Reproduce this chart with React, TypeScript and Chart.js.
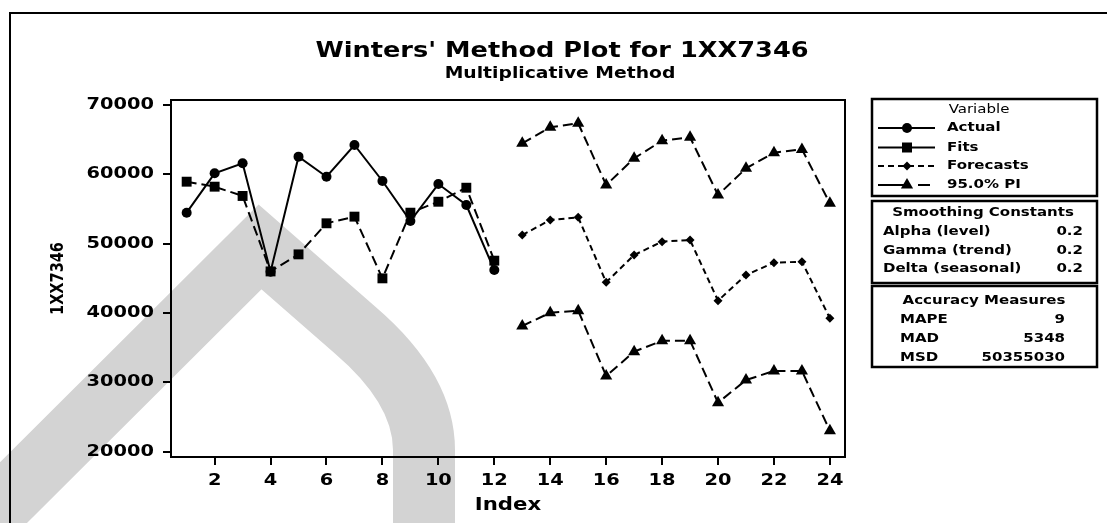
import React, { useEffect, useRef } from 'react';
import { Chart, registerables } from 'chart.js';

Chart.register(...registerables);

// ---- data ----
const fitIndex = [1, 2, 3, 4, 5, 6, 7, 8, 9, 10, 11, 12];
const actual = [54470, 60150, 61590, 45960, 62550, 59660, 64230, 59040, 53270, 58600, 55580, 46200];
const fits = [58940, 58220, 56880, 46000, 48460, 52940, 53900, 45000, 54470, 56050, 58070, 47550];
const forecastIndex = [13, 14, 15, 16, 17, 18, 19, 20, 21, 22, 23, 24];
const forecasts = [51250, 53415, 53800, 44430, 48370, 50290, 50530, 41780, 45480, 47260, 47400, 39230];
const upperPI = [64470, 66780, 67360, 58460, 62310, 64850, 65335, 57020, 60865, 63130, 63600, 55820];
const lowerPI = [38130, 40050, 40340, 30920, 34425, 36010, 36010, 27070, 30340, 31640, 31640, 23030];
const xTicks = [2, 4, 6, 8, 10, 12, 14, 16, 18, 20, 22, 24];
const yTicks = [20000, 30000, 40000, 50000, 60000, 70000];

const titleText = "Winters' Method Plot for 1XX7346";
const subtitleText = 'Multiplicative Method';
const xTitle = 'Index';
const yTitle = '1XX7346';
const legendItems = ['Actual', 'Fits', 'Forecasts', '95.0% PI'];
const smoothingRows: [string, string][] = [
  ['Alpha (level)', '0.2'],
  ['Gamma (trend)', '0.2'],
  ['Delta (seasonal)', '0.2'],
];
const accuracyRows: [string, string][] = [
  ['MAPE', '9'],
  ['MAD', '5348'],
  ['MSD', '50355030'],
];

const W = 1107;
const H = 523;
const FONT = '"DejaVu Sans", Verdana, sans-serif';
const INK = '#000';
const STRETCH = 1.25;

function txt(
  ctx: CanvasRenderingContext2D,
  s: string,
  x: number,
  y: number,
  size: number,
  bold: boolean,
  align: CanvasTextAlign,
  baseline: CanvasTextBaseline = 'middle',
  stretch = STRETCH
) {
  ctx.save();
  ctx.translate(x, y);
  ctx.scale(stretch, 1);
  ctx.font = `${bold ? 'bold ' : ''}${size}px ${FONT}`;
  ctx.fillStyle = INK;
  ctx.textAlign = align;
  ctx.textBaseline = baseline;
  ctx.fillText(s, 0, 0);
  ctx.restore();
}

function marker(ctx: CanvasRenderingContext2D, kind: string, x: number, y: number) {
  ctx.save();
  ctx.fillStyle = INK;
  ctx.beginPath();
  if (kind === 'circle') {
    ctx.arc(x, y, 5, 0, Math.PI * 2);
  } else if (kind === 'rect') {
    ctx.rect(x - 5, y - 5, 10, 10);
  } else if (kind === 'rectRot') {
    ctx.moveTo(x, y - 4.5);
    ctx.lineTo(x + 4.5, y);
    ctx.lineTo(x, y + 4.5);
    ctx.lineTo(x - 4.5, y);
    ctx.closePath();
  } else {
    ctx.moveTo(x, y - 7);
    ctx.lineTo(x + 6.1, y + 3.5);
    ctx.lineTo(x - 6.1, y + 3.5);
    ctx.closePath();
  }
  ctx.fill();
  ctx.restore();
}

const decorPlugin = {
  id: 'decor',
  beforeDraw(chart: any) {
    const ctx: CanvasRenderingContext2D = chart.ctx;
    ctx.save();
    ctx.fillStyle = '#fff';
    ctx.fillRect(0, 0, W, H);
    // scanned watermark band
    ctx.strokeStyle = '#d3d3d3';
    ctx.lineWidth = 62;
    ctx.lineJoin = 'miter';
    ctx.miterLimit = 10;
    ctx.beginPath();
    ctx.moveTo(-40, 546);
    ctx.lineTo(260, 247);
    ctx.lineTo(355, 330);
    ctx.quadraticCurveTo(424, 389, 424, 450);
    ctx.lineTo(424, 560);
    ctx.stroke();
    // page frame
    ctx.strokeStyle = INK;
    ctx.lineWidth = 2;
    ctx.beginPath();
    ctx.moveTo(10, H + 2);
    ctx.lineTo(10, 13);
    ctx.lineTo(W + 2, 13);
    ctx.stroke();
    ctx.restore();
  },
  afterDraw(chart: any) {
    const ctx: CanvasRenderingContext2D = chart.ctx;
    const xs = chart.scales.x;
    const ys = chart.scales.y;
    const a = chart.chartArea;
    ctx.save();
    // plot frame
    ctx.strokeStyle = INK;
    ctx.lineWidth = 2;
    ctx.strokeRect(a.left, a.top, a.right - a.left, a.bottom - a.top);

    // titles
    txt(ctx, titleText, 562, 57, 20.5, true, 'center', 'alphabetic');
    txt(ctx, subtitleText, 560, 78, 15, true, 'center', 'alphabetic');

    // tick labels
    xTicks.forEach((v) => txt(ctx, String(v), xs.getPixelForValue(v), 485, 15.5, true, 'center', 'alphabetic'));
    yTicks.forEach((v) => txt(ctx, String(v), 154, ys.getPixelForValue(v), 15.5, true, 'right', 'middle'));

    // axis titles
    txt(ctx, xTitle, (a.left + a.right) / 2, 510, 17, true, 'center', 'alphabetic');
    ctx.save();
    ctx.translate(58, (a.top + a.bottom) / 2);
    ctx.rotate(-Math.PI / 2);
    ctx.scale(1, STRETCH);
    ctx.font = `bold 14.5px ${FONT}`;
    ctx.fillStyle = INK;
    ctx.textAlign = 'center';
    ctx.textBaseline = 'middle';
    ctx.fillText(yTitle, 0, 0);
    ctx.restore();

    // legend boxes
    const bx = 872;
    const bw = 225;
    ctx.lineWidth = 2.5;
    ctx.strokeStyle = INK;
    ctx.strokeRect(bx, 99, bw, 97);
    ctx.strokeRect(bx, 201, bw, 82);
    ctx.strokeRect(bx, 286, bw, 81);

    txt(ctx, 'Variable', 979, 110, 12, false, 'center');
    const rowsY = [128, 147.5, 166, 185];
    const kinds = ['circle', 'rect', 'rectRot', 'triangle'];
    rowsY.forEach((y, i) => {
      ctx.save();
      ctx.strokeStyle = INK;
      ctx.lineWidth = 2;
      if (i < 2) {
        ctx.beginPath();
        ctx.moveTo(878, y);
        ctx.lineTo(935, y);
        ctx.stroke();
      } else if (i === 2) {
        ctx.setLineDash([6, 4]);
        ctx.beginPath();
        ctx.moveTo(878, y);
        ctx.lineTo(936, y);
        ctx.stroke();
      } else {
        ctx.beginPath();
        ctx.moveTo(878, y);
        ctx.lineTo(910, y);
        ctx.moveTo(918, y);
        ctx.lineTo(930, y);
        ctx.stroke();
      }
      ctx.restore();
      marker(ctx, kinds[i], 907, y);
      txt(ctx, legendItems[i], 947, y, 12, true, 'left');
    });

    txt(ctx, 'Smoothing Constants', 983, 213, 12, true, 'center');
    smoothingRows.forEach(([k, v], i) => {
      const y = 232 + i * 18.5;
      txt(ctx, k, 883, y, 12, true, 'left');
      txt(ctx, v, 1083, y, 12, true, 'right');
    });
    txt(ctx, 'Accuracy Measures', 984, 301, 12, true, 'center');
    accuracyRows.forEach(([k, v], i) => {
      const y = 320 + i * 19;
      txt(ctx, k, 900, y, 12, true, 'left');
      txt(ctx, v, 1065, y, 12, true, 'right');
    });
    ctx.restore();
  },
};

export default function App() {
  const ref = useRef<HTMLCanvasElement>(null);
  useEffect(() => {
    if (!ref.current) return;
    const pts = (xs: number[], ys: number[]) => xs.map((x, i) => ({ x, y: ys[i] }));
    const base = {
      borderColor: INK,
      backgroundColor: INK,
      borderWidth: 2,
      pointBorderWidth: 0,
      fill: false,
      tension: 0,
    };
    const chart = new Chart(ref.current, {
      type: 'line',
      data: {
        datasets: [
          { ...base, label: 'Actual', data: pts(fitIndex, actual), pointStyle: 'circle', pointRadius: 5 },
          { ...base, label: 'Fits', data: pts(fitIndex, fits), pointStyle: 'rect', pointRadius: 7, borderDash: [10, 5] },
          { ...base, label: 'Forecasts', data: pts(forecastIndex, forecasts), pointStyle: 'rectRot', pointRadius: 4.5, borderDash: [6, 4] },
          { ...base, label: '95.0% PI', data: pts(forecastIndex, upperPI), pointStyle: 'triangle', pointRadius: 7, borderDash: [10, 5] },
          { ...base, label: '95.0% PI lower', data: pts(forecastIndex, lowerPI), pointStyle: 'triangle', pointRadius: 7, borderDash: [10, 5] },
        ],
      },
      options: {
        animation: false,
        responsive: false,
        maintainAspectRatio: false,
        devicePixelRatio: 1,
        layout: { padding: { left: 163, top: 100, right: 262, bottom: 58 } },
        plugins: { legend: { display: false }, title: { display: false }, tooltip: { enabled: false } },
        scales: {
          x: {
            type: 'linear',
            min: 0.44,
            max: 24.54,
            afterBuildTicks: (s: any) => {
              s.ticks = xTicks.map((v) => ({ value: v }));
            },
            afterFit: (s: any) => {
              s.height = 8;
            },
            ticks: { display: false },
            grid: { drawOnChartArea: false, drawTicks: true, tickLength: 8, color: INK, lineWidth: 2 },
            border: { display: true, color: INK, width: 2 },
          },
          y: {
            type: 'linear',
            min: 19236,
            max: 70721,
            afterBuildTicks: (s: any) => {
              s.ticks = yTicks.map((v) => ({ value: v }));
            },
            afterFit: (s: any) => {
              s.width = 8;
            },
            ticks: { display: false },
            grid: { drawOnChartArea: false, drawTicks: true, tickLength: 8, color: INK, lineWidth: 2 },
            border: { display: true, color: INK, width: 2 },
          },
        },
      },
      plugins: [decorPlugin],
    } as any);
    return () => chart.destroy();
  }, []);
  return (
    <div style={{ position: 'fixed', left: 0, top: 0, width: W, height: H, background: '#fff' }}>
      <canvas ref={ref} width={W} height={H} style={{ width: W, height: H, display: 'block' }} />
    </div>
  );
}
